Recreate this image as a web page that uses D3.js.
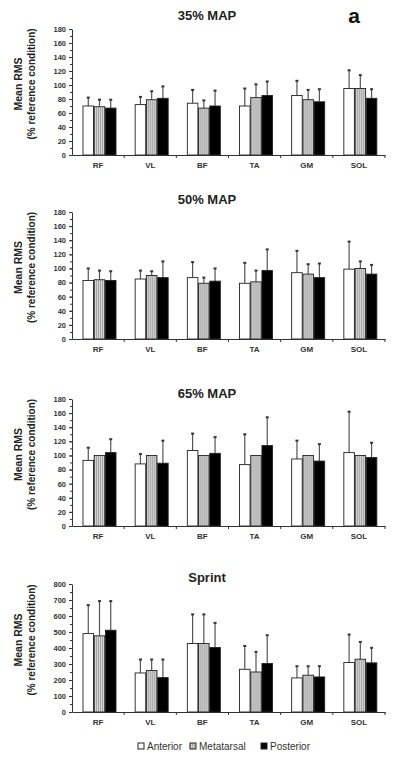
<!DOCTYPE html>
<html>
<head>
<meta charset="utf-8">
<script src="https://cdn.jsdelivr.net/npm/d3@7"></script>
<style>
  body { margin: 0; background: #fff; }
  svg { display: block; }
  .tick text { font-family: "Liberation Sans", Arial, sans-serif; }
</style>
</head>
<body>
<script>
// categorias (musculos) y series (posicion del pie)
var musculos = ["RF", "VL", "BF", "TA", "GM", "SOL"];
var series = ["Anterior", "Metatarsal", "Posterior"];

// 35% MAP : medias y desviaciones (solo hacia arriba)
var ant35 = [70, 72, 74, 70, 85, 95];
var antSd35 = [12, 11, 19, 25, 21, 26];
var meta35 = [69, 79, 67, 82, 79, 95];
var metaSd35 = [10, 12, 11, 19, 14, 19];
var post35 = [67, 81, 70, 85, 76, 81];
var postSd35 = [12, 17, 22, 20, 18, 13];

// 50% MAP
var ant50 = [83, 85, 87, 79, 94, 99];
var antSd50 = [17, 12, 22, 29, 31, 39];
var meta50 = [84, 90, 79, 81, 92, 100];
var metaSd50 = [13, 6, 8, 16, 14, 10];
var post50 = [83, 87, 82, 97, 87, 92];
var postSd50 = [13, 23, 18, 30, 20, 13];

// 65% MAP (metatarsal es la condicion de referencia = 100, sin SD)
var ant65 = [93, 88, 107, 87, 95, 104];
var antSd65 = [18, 14, 24, 43, 26, 58];
var meta65 = [100, 100, 100, 100, 100, 100];
var metaSd65 = [0, 0, 0, 0, 0, 0];
var post65 = [104, 89, 103, 114, 92, 97];
var postSd65 = [19, 32, 23, 40, 24, 21];

// Sprint
var antSpr = [490, 244, 428, 267, 213, 309];
var antSdSpr = [178, 84, 182, 146, 73, 175];
var metaSpr = [476, 259, 428, 250, 230, 330];
var metaSdSpr = [217, 69, 182, 126, 56, 108];
var postSpr = [511, 215, 403, 303, 219, 307];
var postSdSpr = [182, 113, 154, 177, 67, 94];

// ticks de los ejes
var ticksMap = [0, 20, 40, 60, 80, 100, 120, 140, 160, 180];
var ticksSprint = [0, 100, 200, 300, 400, 500, 600, 700, 800];

var paneles = [
  { titulo: "35% MAP", top: 29, bottom: 155, titY: 20, max: 180, ticks: ticksMap, minor: 10,
    medias: [ant35, meta35, post35], sds: [antSd35, metaSd35, postSd35] },
  { titulo: "50% MAP", top: 212, bottom: 339, titY: 204, max: 180, ticks: ticksMap, minor: 10,
    medias: [ant50, meta50, post50], sds: [antSd50, metaSd50, postSd50] },
  { titulo: "65% MAP", top: 399, bottom: 526, titY: 398, max: 180, ticks: ticksMap, minor: 10,
    medias: [ant65, meta65, post65], sds: [antSd65, metaSd65, postSd65] },
  { titulo: "Sprint", top: 584, bottom: 712, titY: 582, max: 800, ticks: ticksSprint, minor: 50,
    medias: [antSpr, metaSpr, postSpr], sds: [antSdSpr, metaSdSpr, postSdSpr] }
];

var vis = {
  width: 400,
  height: 761,
  left: 72,
  right: 385,
  font: "'Liberation Sans', Arial, sans-serif"
};

var svg = d3.select("body").append("svg")
  .attr("width", vis.width)
  .attr("height", vis.height);

// textura rayada para las barras grises
var pat = svg.append("defs").append("pattern")
  .attr("id", "rayas")
  .attr("width", 2).attr("height", 4)
  .attr("patternUnits", "userSpaceOnUse");
pat.append("rect").attr("width", 2).attr("height", 4).attr("fill", "#d4d4d4");
pat.append("rect").attr("width", 0.8).attr("height", 4).attr("fill", "#9a9a9a");

var rellenos = ["#ffffff", "url(#rayas)", "#000000"];

var x0 = d3.scaleBand().domain(musculos).range([vis.left, vis.right]).padding(0);
var x1 = d3.scaleBand().domain(series).range([11, 44]).paddingInner(0.06);

paneles.forEach(function(p) {
  var g = svg.append("g");
  var y = d3.scaleLinear().domain([0, p.max]).range([p.bottom, p.top]);

  // ticks menores
  var menores = d3.range(0, p.max + 1, p.minor);
  g.append("g")
    .attr("transform", "translate(" + vis.left + ",0)")
    .call(d3.axisLeft(y).tickValues(menores).tickSize(2).tickFormat(""))
    .call(function(a) { a.select(".domain").remove(); })
    .selectAll("line").attr("stroke", "#333");

  // eje Y
  var ejeY = g.append("g")
    .attr("transform", "translate(" + vis.left + ",0)")
    .call(d3.axisLeft(y).tickValues(p.ticks).tickSize(3).tickPadding(3).tickSizeOuter(0));
  ejeY.select(".domain").attr("stroke", "#333");
  ejeY.selectAll("line").attr("stroke", "#333");
  ejeY.selectAll("text")
    .attr("font-size", "7.5px")
    .attr("font-weight", "bold")
    .attr("fill", "#333");

  // barras
  var grupos = g.selectAll(".grupo")
    .data(musculos)
    .enter().append("g")
    .attr("transform", function(d) { return "translate(" + x0(d) + ",0)"; });

  series.forEach(function(s, si) {
    grupos.append("line")
      .attr("x1", function(d, i) { return x1(s) + x1.bandwidth() / 2; })
      .attr("x2", function(d, i) { return x1(s) + x1.bandwidth() / 2; })
      .attr("y1", function(d, i) { return y(p.medias[si][i]); })
      .attr("y2", function(d, i) { return y(p.medias[si][i] + p.sds[si][i]); })
      .attr("stroke", "#555")
      .attr("stroke-width", 1.2)
      .attr("display", function(d, i) { return p.sds[si][i] > 0 ? null : "none"; });
    grupos.append("line")
      .attr("x1", function(d, i) { return x1(s) + x1.bandwidth() / 2 - 1.5; })
      .attr("x2", function(d, i) { return x1(s) + x1.bandwidth() / 2 + 1.5; })
      .attr("y1", function(d, i) { return y(p.medias[si][i] + p.sds[si][i]); })
      .attr("y2", function(d, i) { return y(p.medias[si][i] + p.sds[si][i]); })
      .attr("stroke", "#333")
      .attr("stroke-width", 2)
      .attr("display", function(d, i) { return p.sds[si][i] > 0 ? null : "none"; });
    grupos.append("rect")
      .attr("x", x1(s))
      .attr("width", x1.bandwidth())
      .attr("y", function(d, i) { return y(p.medias[si][i]); })
      .attr("height", function(d, i) { return y(0) - y(p.medias[si][i]); })
      .attr("fill", rellenos[si])
      .attr("stroke", "#222")
      .attr("stroke-width", 0.9);
  });

  // eje X
  var ejeX = g.append("g")
    .attr("transform", "translate(0," + p.bottom + ")")
    .call(d3.axisBottom(x0).tickSize(0).tickPadding(7));
  ejeX.select(".domain").attr("stroke", "#333");
  ejeX.selectAll("text")
    .attr("font-size", "8px")
    .attr("font-weight", "bold")
    .attr("fill", "#333");
  // marcas entre categorias
  g.selectAll(".sep")
    .data(musculos)
    .enter().append("line")
    .attr("x1", function(d) { return x0(d) + x0.bandwidth(); })
    .attr("x2", function(d) { return x0(d) + x0.bandwidth(); })
    .attr("y1", p.bottom)
    .attr("y2", p.bottom + 3)
    .attr("stroke", "#333");

  // titulo
  g.append("text")
    .attr("x", 207)
    .attr("y", p.titY)
    .attr("text-anchor", "middle")
    .attr("font-family", vis.font)
    .attr("font-weight", "bold")
    .attr("font-size", "13px")
    .attr("fill", "#222")
    .text(p.titulo);

  // etiqueta eje Y
  var cy = (p.top + p.bottom) / 2 - 8;
  g.append("text")
    .attr("transform", "translate(22," + cy + ") rotate(-90)")
    .attr("text-anchor", "middle")
    .attr("font-family", vis.font)
    .attr("font-weight", "bold")
    .attr("font-size", "10.5px")
    .attr("fill", "#222")
    .text("Mean RMS");
  g.append("text")
    .attr("transform", "translate(35," + cy + ") rotate(-90)")
    .attr("text-anchor", "middle")
    .attr("font-family", vis.font)
    .attr("font-weight", "bold")
    .attr("font-size", "10px")
    .attr("fill", "#222")
    .text("(% reference condition)");
});

// letra del panel
svg.append("text")
  .attr("x", 354)
  .attr("y", 23)
  .attr("text-anchor", "middle")
  .attr("font-family", vis.font)
  .attr("font-weight", "bold")
  .attr("font-size", "21px")
  .attr("fill", "#111")
  .text("a");

// leyenda
var legX = [138, 190, 261];
var leyenda = svg.selectAll(".ley")
  .data(series)
  .enter().append("g")
  .attr("transform", function(d, i) { return "translate(" + legX[i] + ",743)"; });
leyenda.append("rect")
  .attr("width", 6).attr("height", 6)
  .attr("fill", function(d, i) { return rellenos[i]; })
  .attr("stroke", "#222")
  .attr("stroke-width", 1);
leyenda.append("text")
  .attr("x", 9)
  .attr("y", 6.5)
  .attr("font-family", vis.font)
  .attr("font-size", "10px")
  .attr("fill", "#333")
  .text(function(d) { return d; });
</script>
</body>
</html>
